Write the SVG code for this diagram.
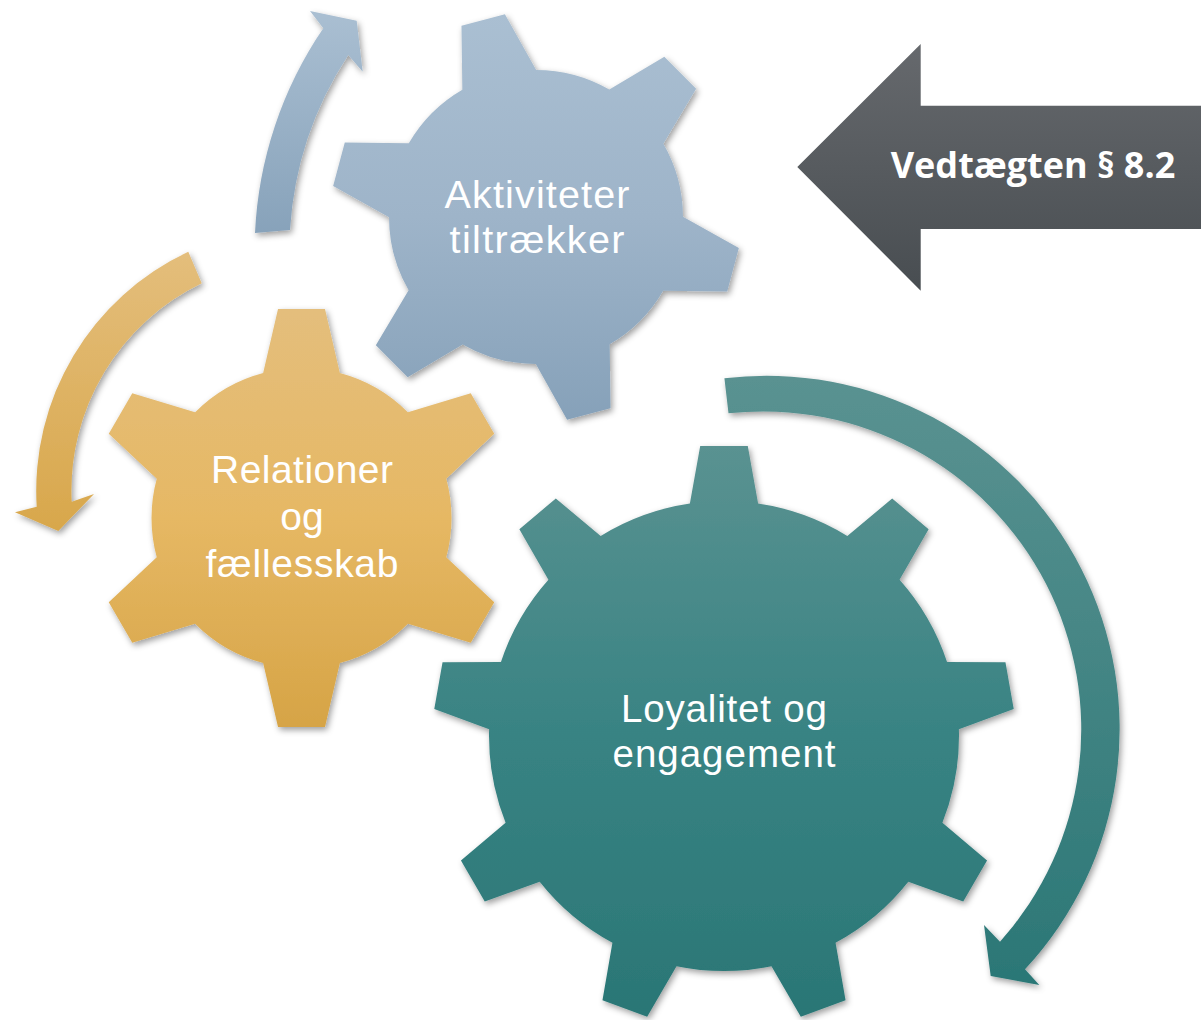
<svg xmlns="http://www.w3.org/2000/svg" width="1202" height="1020" viewBox="0 0 1202 1020">
  <defs>
    <style>
      .lbl { font-family: "Liberation Sans", Arial, sans-serif; fill: #FFFFFF; text-anchor: middle; }
      .big { font-family: "Open Sans", "Noto Sans", "Liberation Sans", sans-serif; font-weight: 700; fill: #FFFFFF; text-anchor: middle; }
    </style>
    <filter id="sh" x="-10%" y="-10%" width="125%" height="125%">
      <feDropShadow dx="2" dy="3" stdDeviation="3" flood-color="#000000" flood-opacity="0.38"/>
    </filter>
    <linearGradient id="gBlue" x1="0" y1="0" x2="0" y2="1">
      <stop offset="0" stop-color="#AABFD2"/>
      <stop offset="0.5" stop-color="#9EB4C9"/>
      <stop offset="1" stop-color="#86A1B9"/>
    </linearGradient>
    <linearGradient id="gYellow" x1="0" y1="0" x2="0" y2="1">
      <stop offset="0" stop-color="#E4BE7C"/>
      <stop offset="0.5" stop-color="#E6B864"/>
      <stop offset="1" stop-color="#D6A446"/>
    </linearGradient>
    <linearGradient id="gTeal" x1="0" y1="0" x2="0" y2="1">
      <stop offset="0" stop-color="#5A9291"/>
      <stop offset="0.5" stop-color="#388383"/>
      <stop offset="1" stop-color="#2A7675"/>
    </linearGradient>
    <linearGradient id="aBlue" gradientUnits="userSpaceOnUse" x1="0" y1="10" x2="0" y2="235">
      <stop offset="0" stop-color="#AABFD2"/>
      <stop offset="1" stop-color="#87A2BA"/>
    </linearGradient>
    <linearGradient id="aYellow" gradientUnits="userSpaceOnUse" x1="0" y1="250" x2="0" y2="532">
      <stop offset="0" stop-color="#E4BE7C"/>
      <stop offset="1" stop-color="#D8A74B"/>
    </linearGradient>
    <linearGradient id="aTeal" gradientUnits="userSpaceOnUse" x1="0" y1="378" x2="0" y2="985">
      <stop offset="0" stop-color="#5A9291"/>
      <stop offset="1" stop-color="#2B7776"/>
    </linearGradient>
    <linearGradient id="gGrey" gradientUnits="userSpaceOnUse" x1="0" y1="44" x2="0" y2="291">
      <stop offset="0" stop-color="#66696D"/>
      <stop offset="1" stop-color="#484D51"/>
    </linearGradient>
    <clipPath id="cBlue">
      <circle cx="536" cy="217" r="147"/>
      <polygon points="-22.5,-204 22.5,-204 40,-135 -40,-135" transform="translate(536 217) rotate(-15)"/>
      <polygon points="-22.5,-204 22.5,-204 40,-135 -40,-135" transform="translate(536 217) rotate(45)"/>
      <polygon points="-22.5,-204 22.5,-204 40,-135 -40,-135" transform="translate(536 217) rotate(105)"/>
      <polygon points="-22.5,-204 22.5,-204 40,-135 -40,-135" transform="translate(536 217) rotate(165)"/>
      <polygon points="-22.5,-204 22.5,-204 40,-135 -40,-135" transform="translate(536 217) rotate(225)"/>
      <polygon points="-22.5,-204 22.5,-204 40,-135 -40,-135" transform="translate(536 217) rotate(285)"/>
    </clipPath>
    <clipPath id="cYellow">
      <circle cx="301.5" cy="518" r="150"/>
      <polygon points="-23.5,-209 23.5,-209 40,-138 -40,-138" transform="translate(301.5 518) rotate(0)"/>
      <polygon points="-23.5,-209 23.5,-209 40,-138 -40,-138" transform="translate(301.5 518) rotate(60)"/>
      <polygon points="-23.5,-209 23.5,-209 40,-138 -40,-138" transform="translate(301.5 518) rotate(120)"/>
      <polygon points="-23.5,-209 23.5,-209 40,-138 -40,-138" transform="translate(301.5 518) rotate(180)"/>
      <polygon points="-23.5,-209 23.5,-209 40,-138 -40,-138" transform="translate(301.5 518) rotate(240)"/>
      <polygon points="-23.5,-209 23.5,-209 40,-138 -40,-138" transform="translate(301.5 518) rotate(300)"/>
    </clipPath>
    <clipPath id="cTeal">
      <circle cx="724" cy="736" r="235"/>
      <polygon points="-23.8,-290 23.8,-290 36,-222 -36,-222" transform="translate(724 736) rotate(0)"/>
      <polygon points="-23.8,-290 23.8,-290 36,-222 -36,-222" transform="translate(724 736) rotate(40)"/>
      <polygon points="-23.8,-290 23.8,-290 36,-222 -36,-222" transform="translate(724 736) rotate(80)"/>
      <polygon points="-23.8,-290 23.8,-290 36,-222 -36,-222" transform="translate(724 736) rotate(120)"/>
      <polygon points="-23.8,-290 23.8,-290 36,-222 -36,-222" transform="translate(724 736) rotate(160)"/>
      <polygon points="-23.8,-290 23.8,-290 36,-222 -36,-222" transform="translate(724 736) rotate(200)"/>
      <polygon points="-23.8,-290 23.8,-290 36,-222 -36,-222" transform="translate(724 736) rotate(240)"/>
      <polygon points="-23.8,-290 23.8,-290 36,-222 -36,-222" transform="translate(724 736) rotate(280)"/>
      <polygon points="-23.8,-290 23.8,-290 36,-222 -36,-222" transform="translate(724 736) rotate(320)"/>
    </clipPath>
  </defs>

  <rect x="0" y="0" width="1202" height="1020" fill="#FFFFFF"/>

  <g id="connectors">
    <path id="arrow-blue" filter="url(#sh)" fill="url(#aBlue)" d="M255,233 A395,395 0 0 1 323.3,28.3 L310,11 L356.7,20.7 L362.7,71.7 L348.3,55 A360,360 0 0 0 290,230 Z"/>
    <path id="arrow-yellow" filter="url(#sh)" fill="url(#aYellow)" d="M188.3,251.7 A264,264 0 0 0 36.7,506.7 L15,512.3 L58.3,531 L94,494 L71.7,501.7 A230,230 0 0 1 201.7,283.3 Z"/>
    <path id="arrow-teal" filter="url(#sh)" fill="url(#aTeal)" d="M724.4,378.3 A353,353 0 0 1 1025,969.3 L1039.3,985 L990.7,976 L984,925 L1000,941.7 A318,318 0 0 0 728.5,413.3 Z"/>
  </g>

  <g id="gear-aktiviteter">
    <g filter="url(#sh)">
      <rect x="332" y="13" width="408" height="408" fill="url(#gBlue)" clip-path="url(#cBlue)"/>
    </g>
    <text class="lbl" font-size="39.5"><tspan x="537" y="208" textLength="185" lengthAdjust="spacing">Aktiviteter</tspan><tspan x="537" y="253" textLength="175" lengthAdjust="spacing">tiltrækker</tspan></text>
  </g>

  <g id="gear-relationer">
    <g filter="url(#sh)">
      <rect x="92.5" y="309" width="418" height="418" fill="url(#gYellow)" clip-path="url(#cYellow)"/>
    </g>
    <text class="lbl" font-size="39"><tspan x="302" y="483" textLength="182" lengthAdjust="spacing">Relationer</tspan><tspan x="302" y="530">og</tspan><tspan x="302" y="577" textLength="193" lengthAdjust="spacing">fællesskab</tspan></text>
  </g>

  <g id="gear-loyalitet">
    <g filter="url(#sh)">
      <rect x="434" y="446" width="580" height="580" fill="url(#gTeal)" clip-path="url(#cTeal)"/>
    </g>
    <text class="lbl" font-size="38.5"><tspan x="724" y="722" textLength="206" lengthAdjust="spacing">Loyalitet og</tspan><tspan x="724" y="767" textLength="223" lengthAdjust="spacing">engagement</tspan></text>
  </g>

  <g id="vedtaegten">
    <polygon points="797.3,167 920.7,44 920.7,105.7 1201,105.7 1201,229 920.7,229 920.7,290.7" fill="url(#gGrey)"/>
    <text class="big" x="1033" y="178" font-size="36">Vedtægten § 8.2</text>
  </g>
</svg>
